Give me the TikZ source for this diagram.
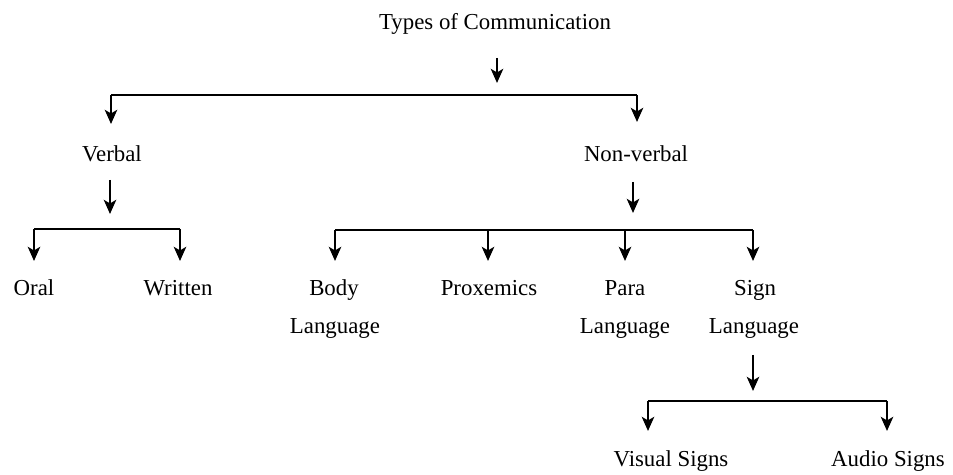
\documentclass[tikz,border=0pt]{standalone}
\usepackage{fontspec}
\setmainfont{Liberation Serif}
\usetikzlibrary{arrows.meta}
\begin{document}
\begin{tikzpicture}[x=0.02cm,y=-0.02cm,
  lbl/.style={font=\fontsize{13}{15}\selectfont,inner sep=0pt,anchor=base},
  con/.style={line width=1.4pt},
  arr/.style={line width=1.6pt,-{Stealth[length=8pt,width=7pt,inset=2pt]}}]
\useasboundingbox (0,0) rectangle (953,475);
% texts
\node[lbl] (root) at (495,30) {Types of Communication};
\node[lbl] (verbal) at (112,162) {Verbal};
\node[lbl] (nonverbal) at (636,162) {Non-verbal};
\node[lbl] (oral) at (34,296) {Oral};
\node[lbl] (written) at (178,296) {Written};
\node[lbl] (body) at (334,296) {Body};
\node[lbl] (bodyl) at (335,334) {Language};
\node[lbl] (prox) at (489,296) {Proxemics};
\node[lbl] (para) at (625,296) {Para};
\node[lbl] (paral) at (625,334) {Language};
\node[lbl] (sign) at (755,296) {Sign};
\node[lbl] (signl) at (754,334) {Language};
\node[lbl] (visual) at (671,467) {Visual Signs};
\node[lbl] (audio) at (888,467) {Audio Signs};
% coordinates
\coordinate (r1) at (497,58);  \coordinate (r2) at (497,83);
\coordinate (b1l) at (111,95); \coordinate (b1r) at (637,95);
\coordinate (v1) at (111,124); \coordinate (n1) at (637,122);
\coordinate (va) at (110,180); \coordinate (vb) at (110,214);
\coordinate (b2l) at (34,229); \coordinate (b2r) at (180,229);
\coordinate (ot) at (34,261); \coordinate (wt) at (180,261);
\coordinate (na) at (633,182); \coordinate (nb) at (633,213);
\coordinate (b3l) at (335,230); \coordinate (b3r) at (753,230);
\coordinate (bt) at (335,261); \coordinate (pt) at (488,261);
\coordinate (pat) at (625,261); \coordinate (st) at (753,261);
\coordinate (p3) at (488,230); \coordinate (pa3) at (625,230);
\coordinate (sa) at (753,355); \coordinate (sb) at (753,391);
\coordinate (b4l) at (648,401); \coordinate (b4r) at (887,401);
\coordinate (vt) at (648,431); \coordinate (at) at (887,431);
% connectors
\draw[arr] (r1) -- (r2);
\draw[con] (b1l) -- (b1r);
\draw[arr] (b1l) -- (v1);
\draw[arr] (b1r) -- (n1);
\draw[arr] (va) -- (vb);
\draw[con] (b2l) -- (b2r);
\draw[arr] (b2l) -- (ot);
\draw[arr] (b2r) -- (wt);
\draw[arr] (na) -- (nb);
\draw[con] (b3l) -- (b3r);
\draw[arr] (b3l) -- (bt);
\draw[arr] (p3) -- (pt);
\draw[arr] (pa3) -- (pat);
\draw[arr] (b3r) -- (st);
\draw[arr] (sa) -- (sb);
\draw[con] (b4l) -- (b4r);
\draw[arr] (b4l) -- (vt);
\draw[arr] (b4r) -- (at);
\end{tikzpicture}
\end{document}
